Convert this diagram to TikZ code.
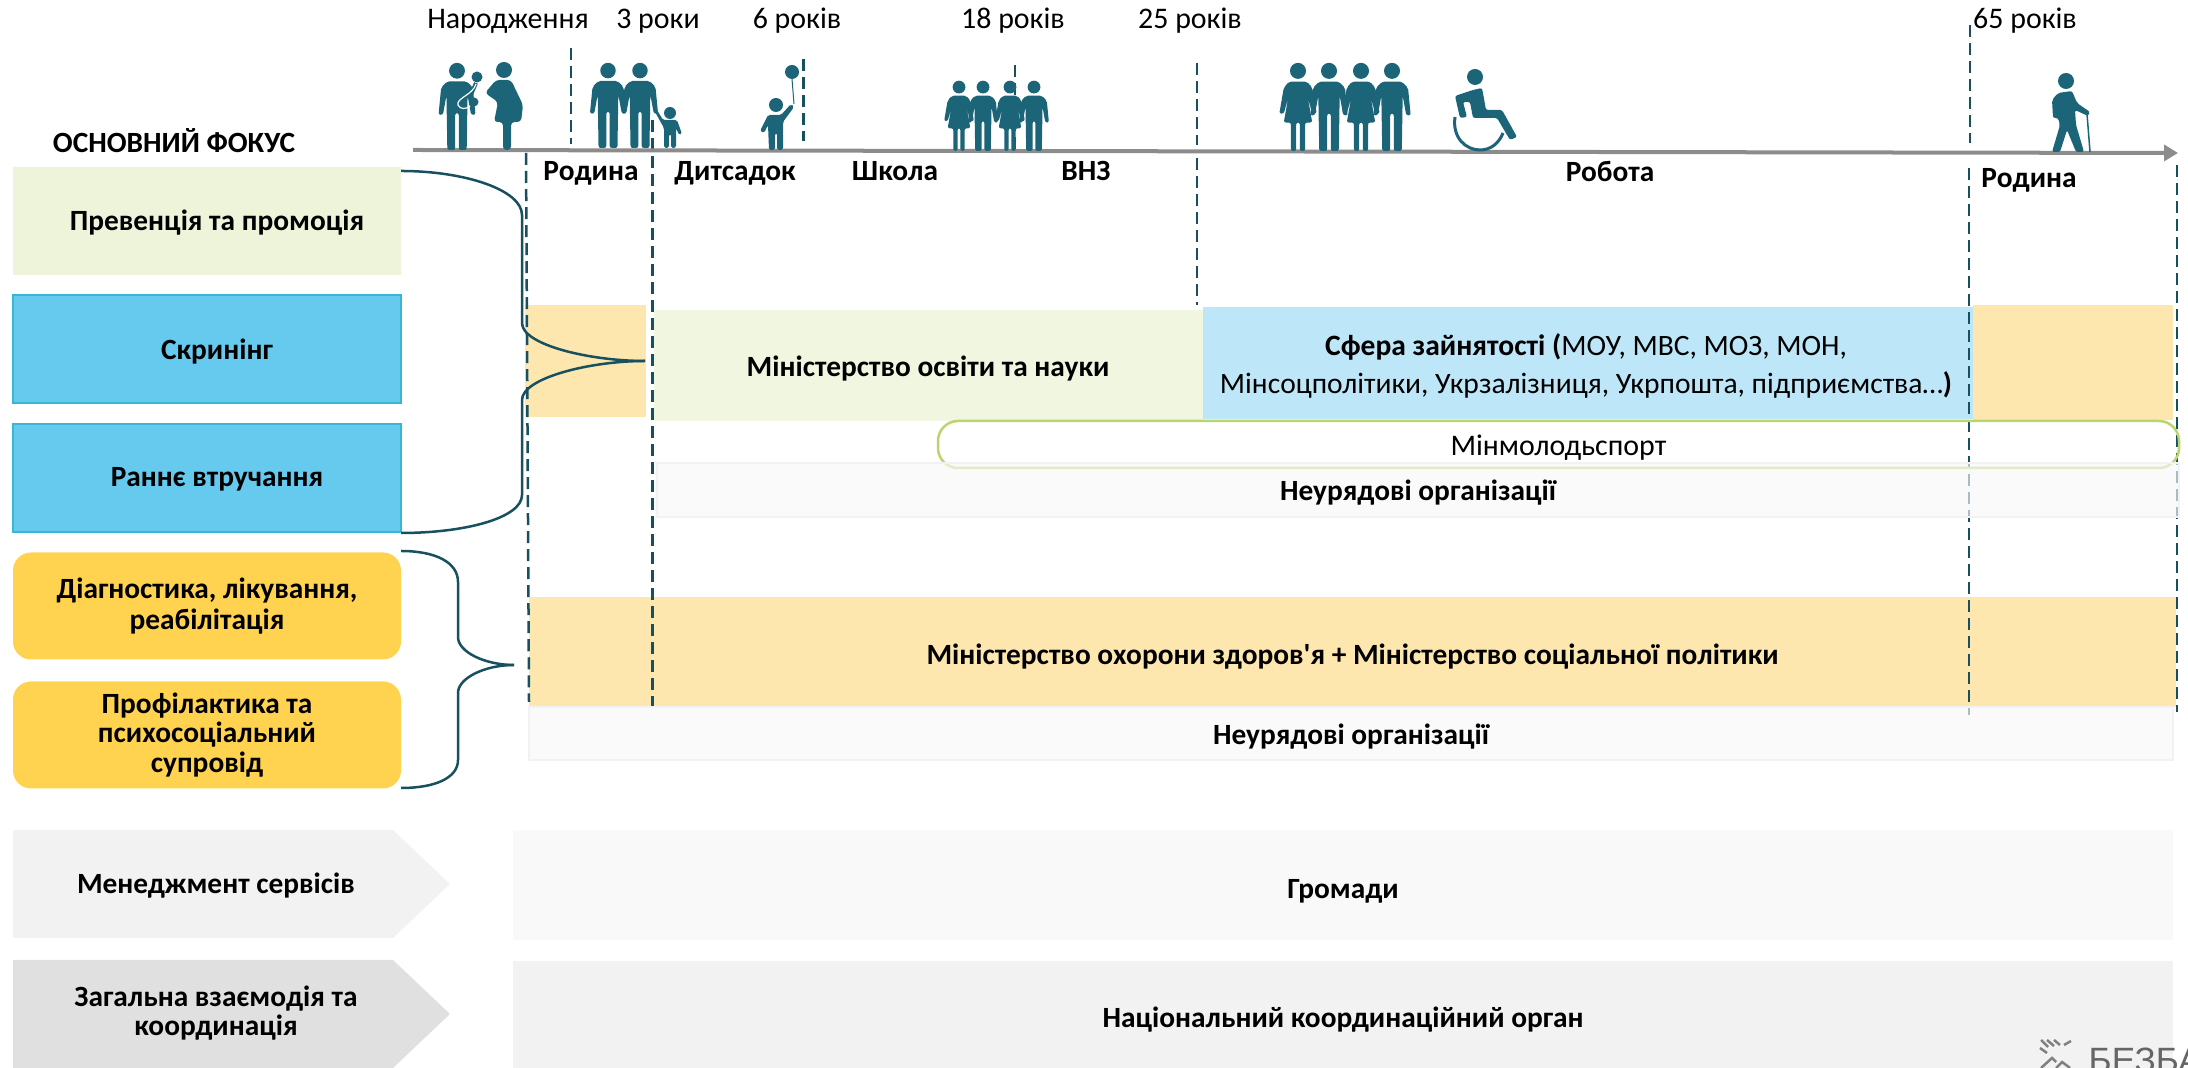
\documentclass[tikz,border=0pt]{standalone}
\usepackage{fontspec}
\newfontfamily\labelfont{Carlito}
\newfontfamily\logofont{Liberation Sans}
\usetikzlibrary{positioning,arrows.meta,shapes.misc}
\definecolor{figcol}{HTML}{1C6478}
\definecolor{dashcol}{HTML}{17505F}
\definecolor{palegreen}{HTML}{EEF4DA}
\definecolor{skyfill}{HTML}{66C9EE}
\definecolor{skyline}{HTML}{38B6D4}
\definecolor{goldfill}{HTML}{FFD24F}
\definecolor{sandfill}{HTML}{FDE7AE}
\definecolor{lightblue}{HTML}{BDE7F8}
\definecolor{limeline}{HTML}{BBD56C}
\tikzset{
    plaintext/.style={font=\labelfont\fontsize{8.5}{8.6}\selectfont, align=center, inner sep=0pt},
    boldtext/.style={plaintext, font=\labelfont\bfseries\fontsize{8.35}{8.3}\selectfont},
    lowtext/.style={text height=#1*0.01cm, text depth=0.06cm},
    barsize/.style 2 args={minimum width=#1*0.01cm, minimum height=#2*0.01cm, inner sep=0pt, outer sep=0pt},
    snipbox/.style={chamfered rectangle, chamfered rectangle corners={north east,south east},
        chamfered rectangle xsep=0.05cm, chamfered rectangle ysep=0.05cm},
    ngobar/.style={boldtext, fill=black!3, fill opacity=0.65, text opacity=1, draw=black!5, line width=0.02cm},
    dashline/.style={draw=dashcol, line width=0.025cm, dash pattern=on 0.12cm off 0.06cm},
    bracket/.style={draw=dashcol, line width=0.025cm},
    manfig/.pic={
        \fill[figcol] (0,-90) circle (9);
        \fill[figcol, rounded corners=0.6pt] (-11,-78) -- (11,-78) -- (18,-71) -- (21,-40) -- (16,-40) -- (12,-62)
            -- (11,0) -- (2,0) -- (2,-42) -- (-2,-42) -- (-2,0) -- (-11,0) -- (-12,-62) -- (-16,-40) -- (-21,-40) -- (-18,-71) -- cycle;
    },
    womanfig/.pic={
        \fill[figcol] (0,-90) circle (9);
        \fill[figcol, rounded corners=0.6pt] (-10,-78) -- (10,-78) -- (16,-71) -- (21,-42) -- (16,-42) -- (11,-60) -- (16,-32)
            -- (8,-32) -- (8,0) -- (2,0) -- (2,-32) -- (-2,-32) -- (-2,0) -- (-8,0) -- (-8,-32) -- (-16,-32)
            -- (-11,-60) -- (-16,-42) -- (-21,-42) -- (-16,-71) -- cycle;
    }
}
\begin{document}
\begin{tikzpicture}[x=0.01cm, y=-0.01cm]
    \useasboundingbox (0,0) rectangle (2188,1068);

    \node[boldtext] (focus) at (174,141) {ОСНОВНИЙ ФОКУС};

    \node[boldtext, barsize={388}{108}, snipbox, fill=palegreen] (prev) at (207,221) {};
    \node[boldtext, barsize={388}{108}, snipbox, fill=skyfill, draw=skyline, line width=0.02cm] (screen) at (207,349) {};
    \node[boldtext, barsize={388}{108}, snipbox, fill=skyfill, draw=skyline, line width=0.02cm] (early) at (207,478) {};
    \node[boldtext, xshift=0.1cm, yshift=-0.015cm] (prevtext) at (prev) {Превенція та промоція};
    \node[boldtext, xshift=0.1cm, yshift=-0.03cm] (screentext) at (screen) {Скринінг};
    \node[boldtext, xshift=0.1cm, yshift=-0.015cm] (earlytext) at (early) {Раннє втручання};

    \node[boldtext, barsize={388}{107}, rounded corners=0.18cm, fill=goldfill] (diag) at (207,606)
        {Діагностика, лікування,\\[0.5pt]реабілітація};
    \node[boldtext, barsize={388}{107}, rounded corners=0.18cm, fill=goldfill] (psych) at (207,735)
        {Профілактика та\\психосоціальний\\супровід};

    \fill[black!5] (13,830) -- (393,830) -- (450,884) -- (393,938) -- (13,938) -- cycle;
    \fill[black!12] (13,960) -- (393,960) -- (450,1014) -- (393,1068) -- (13,1068) -- cycle;
    \node[boldtext] (manage) at (216,886) {Менеджмент сервісів};
    \node[boldtext] (coord) at (216,1013) {Загальна взаємодія та\\координація};

    \node[barsize={121}{112}, fill=sandfill] (famone) at (585.5,361) {};
    \node[boldtext, lowtext=28, barsize={549}{111}, fill=palegreen!80] (edu) at (928,366) {Міністерство освіти та науки};
    \node[barsize={770}{112}, fill=lightblue] (work) at (1588,363) {};
    \node[plaintext, font=\labelfont\fontsize{8.4}{10.8}\selectfont] (worktext) at (1586,366)
        {\textbf{Сфера зайнятості (}МОУ, МВС, МОЗ, МОН,\\Мінсоцполітики, Укрзалізниця, Укрпошта, підприємства…\textbf{)}};
    \node[barsize={200}{115}, fill=sandfill] (famtwo) at (2073,362.5) {};
    \node[boldtext, lowtext=31, barsize={1647}{110}, fill=sandfill] (health) at (1352.5,652) {Міністерство охорони здоров'я + Міністерство соціальної політики};

    \coordinate (leftup) at (526,153);
    \coordinate (leftdown) at (529,702);
    \coordinate (threeup) at (652.5,120);
    \coordinate (threedown) at (652.5,707);
    \coordinate (birthup) at (571,48);
    \coordinate (birthdown) at (571,144);
    \coordinate (sixup) at (803.5,59);
    \coordinate (sixdown) at (803.5,141);
    \coordinate (eighteenup) at (1015,65);
    \coordinate (eighteendown) at (1015,150);
    \coordinate (twentyfiveup) at (1197,63);
    \coordinate (twentyfivedown) at (1197,145);
    \coordinate (twentyfivelow) at (1197,158);
    \coordinate (twentyfiveend) at (1197,305);
    \coordinate (sixtyfiveup) at (1970,25);
    \coordinate (sixtyfivedown) at (1970,143);
    \coordinate (sixtyfivelow) at (1969,168);
    \coordinate (sixtyfiveend) at (1969,715);
    \coordinate (rightup) at (2177,165);
    \coordinate (rightdown) at (2177,712);
    \draw[dashline] (leftup) -- (leftdown);
    \draw[dashline] (threeup) -- (threedown);
    \draw[dashline] (birthup) -- (birthdown);
    \draw[dashline] (sixup) -- (sixdown);
    \draw[dashline] (eighteenup) -- (eighteendown);
    \draw[dashline] (twentyfiveup) -- (twentyfivedown);
    \draw[dashline] (twentyfivelow) -- (twentyfiveend);
    \draw[dashline] (sixtyfiveup) -- (sixtyfivedown);
    \draw[dashline] (sixtyfivelow) -- (sixtyfiveend);
    \draw[dashline] (rightup) -- (rightdown);

    \node[plaintext, lowtext=28, barsize={1241}{47}, rounded corners=0.2cm, draw=limeline, line width=0.025cm] (youth) at (1558.5,444.5) {Мінмолодьспорт};
    \node[ngobar, lowtext=28, barsize={1522}{54}] (ngoone) at (1418,490) {Неурядові організації};
    \node[ngobar, lowtext=28, barsize={1644}{53}] (ngotwo) at (1351,733.5) {Неурядові організації};
    \node[boldtext, lowtext=34, barsize={1660}{110}, fill=black!2.5] (comm) at (1343,885) {Громади};
    \node[boldtext, lowtext=33, barsize={1660}{107}, fill=black!5] (nation) at (1343,1014.5) {Національний координаційний орган};

    \coordinate (timestart) at (413,150);
    \coordinate (timeend) at (2178,153);
    \draw[-{Triangle[length=0.14cm, width=0.16cm]}, draw=black!45, fill=black!45, line width=0.04cm] (timestart) -- (timeend);

    \node[plaintext, anchor=base] (birth) at (508,29) {Народження};
    \node[plaintext, anchor=base] (three) at (658,29) {3 роки};
    \node[plaintext, anchor=base] (six) at (797,29) {6 років};
    \node[plaintext, anchor=base] (eighteen) at (1013,29) {18 років};
    \node[plaintext, anchor=base] (twentyfive) at (1190,29) {25 років};
    \node[plaintext, anchor=base] (sixtyfive) at (2025,29) {65 років};
    \node[boldtext, anchor=base] (family) at (591,181) {Родина};
    \node[boldtext, anchor=base] (kinder) at (735,181) {Дитсадок};
    \node[boldtext, anchor=base] (school) at (895,181) {Школа};
    \node[boldtext, anchor=base] (uni) at (1086,181) {ВНЗ};
    \node[boldtext, anchor=base] (job) at (1610,182) {Робота};
    \node[boldtext, anchor=base] (familytwo) at (2029,188) {Родина};

    \coordinate (tipA) at (645,361);
    \coordinate (tipB) at (514,665);
    \coordinate (braceAtop) at (401,171);
    \coordinate (braceAlow) at (401,533);
    \coordinate (braceBtop) at (401,551);
    \coordinate (braceBlow) at (401,788);
    \draw[bracket] (braceAtop) .. controls (465,171) and (522,190) .. (522,215) -- (522,323) .. controls (522,345) and (590,361) .. (tipA);
    \draw[bracket] (braceAlow) .. controls (465,533) and (522,518) .. (522,495) -- (522,400) .. controls (522,378) and (590,361) .. (tipA);
    \draw[bracket] (braceBtop) .. controls (435,551) and (458,562) .. (458,582) -- (458,637) .. controls (458,652) and (485,665) .. (tipB);
    \draw[bracket] (braceBlow) .. controls (435,788) and (458,778) .. (458,760) -- (458,693) .. controls (458,678) and (485,665) .. (tipB);

    \pic[scale=0.88] at (457,150) {manfig};
    \fill[figcol] (477,77) circle (5.5);
    \fill[figcol] (474,102) circle (4.5);
    \draw[figcol, line width=0.04cm] (476,83) -- (470,97);
    \draw[white, line width=0.012cm] (476,84) .. controls (473,95) and (456,98) .. (458,105) .. controls (460,110) and (467,109) .. (470,106);
    \fill[figcol] (504,70) circle (8);
    \fill[figcol, rounded corners=1pt] (496,80) -- (511,80) -- (523,105) -- (521,122) -- (511,122) -- (511,150) -- (503,150) -- (503,122) -- (494,122) -- (498,102) -- (485,93) -- cycle;

    \pic[scale=0.86] at (608,148) {manfig};
    \pic[scale=0.86] at (640,148) {manfig};
    \fill[figcol] (670,113) circle (6);
    \fill[figcol, rounded corners=0.5pt] (663,120) -- (677,120) -- (682,134) -- (679,135) -- (676,128) -- (676,148) -- (671,148) -- (671,134) -- (669,134) -- (669,148) -- (664,148) -- (664,128) -- (655,112) -- (657,110) -- cycle;

    \fill[figcol] (776,105) circle (7);
    \fill[figcol, rounded corners=0.5pt] (768,115) -- (781,115) -- (791,104) -- (794,107) -- (783,122) -- (783,150) -- (777,150) -- (777,133) -- (775,133) -- (775,150) -- (769,150) -- (768,125) -- (764,133) -- (760,131) -- cycle;
    \fill[figcol] (792,72) circle (7);
    \draw[figcol, line width=0.01cm] (792,79) -- (794,104);

    \pic[scale=0.71] at (959,151) {womanfig};
    \pic[scale=0.71] at (983,151) {manfig};
    \pic[scale=0.71] at (1010,151) {womanfig};
    \pic[scale=0.71] at (1034,151) {manfig};

    \pic[scale=0.89] at (1298,151) {womanfig};
    \pic[scale=0.89] at (1329,151) {manfig};
    \pic[scale=0.89] at (1361,151) {womanfig};
    \pic[scale=0.89] at (1392,151) {manfig};

    \fill[figcol] (1475,77) circle (8);
    \fill[figcol, rounded corners=0.6pt] (1455,96) -- (1473,90) -- (1482,88) -- (1486,110) -- (1502,110) -- (1517,137) -- (1510,140) -- (1497,118) -- (1473,118) -- (1470,102) -- (1463,102) -- (1467,117) -- (1460,118) -- cycle;
    \draw[figcol, line width=0.03cm] (1455,117) .. controls (1452,138) and (1466,150) .. (1480,150) .. controls (1491,150) and (1499,143) .. (1503,133);

    \fill[figcol] (2066,81) circle (8);
    \fill[figcol, rounded corners=0.6pt] (2058,93) -- (2072,91) -- (2077,103) -- (2090,112) -- (2088,116) -- (2075,110) -- (2076,125) -- (2084,152) -- (2076,152) -- (2067,130) -- (2060,152) -- (2052,152) -- (2060,125) -- (2058,118) -- (2053,118) -- (2052,100) -- cycle;
    \draw[figcol, line width=0.015cm] (2087,114) -- (2090,152);

    \begin{scope}
        \clip (0,0) rectangle (2188,1068);
        \draw[black!50, line width=0.025cm] (2041,1040) -- (2048,1047) (2047,1040) -- (2054,1046) (2054,1040) -- (2060,1045) (2071,1041) -- (2064,1045) (2040,1048) -- (2047,1053) (2041,1068) -- (2052,1058) -- (2056,1062) (2056,1068) -- (2062,1062) -- (2070,1068);
        \node[font=\logofont\fontsize{10}{10}\selectfont, text=black!60, anchor=base west, inner sep=0pt] (logo) at (2088,1073) {БЕЗБАР};
    \end{scope}
\end{tikzpicture}
\end{document}
